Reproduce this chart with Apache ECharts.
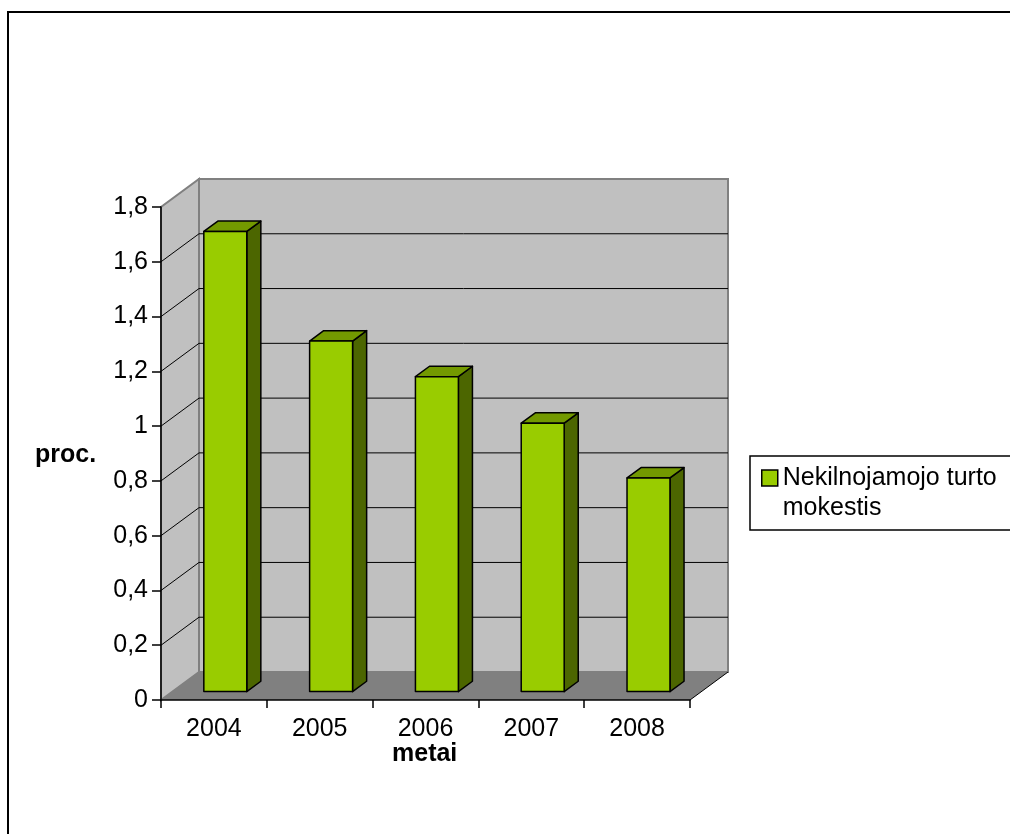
<!DOCTYPE html>
<html>
<head>
<meta charset="utf-8">
<script src="https://cdn.jsdelivr.net/npm/echarts@6/dist/echarts.min.js"></script>
<style>html,body{margin:0;padding:0;background:#fff}#c{width:1010px;height:834px}</style>
</head>
<body>
<div id="c"></div>
<script>
var categories = ['2004', '2005', '2006', '2007', '2008'];
var values = [1.68, 1.28, 1.15, 0.98, 0.78];
var seriesName = 'Nekilnojamojo turto mokestis';
var legendLabel = '\nNekilnojamojo turto\nmokestis';
var yTitle = 'proc.';
var xTitle = 'metai';
var yMax = 1.8, yStep = 0.2;

var FONT = 'Liberation Sans, Arial, sans-serif';
var FS = 25;
var DX = 38, DY = -28;          // depth offset of back wall
var FF = 0.30, BF = 0.67;       // bar front/back depth fractions
var BAR_W = 0.406;              // bar width relative to band

var chart = echarts.init(document.getElementById('c'), null, {renderer: 'canvas'});

function wallsRender(params, api) {
  var cs = params.coordSys;
  var x0 = cs.x, x1 = cs.x + cs.width;
  var yb = api.coord([0, 0])[1];
  var yt = api.coord([0, yMax])[1];
  var ch = [];
  ch.push({type: 'rect', shape: {x: x0 + DX, y: yt + DY, width: x1 - x0, height: yb - yt},
    style: {fill: '#C0C0C0', stroke: '#808080', lineWidth: 2}});
  ch.push({type: 'polygon', shape: {points: [[x0, yb], [x0, yt], [x0 + DX, yt + DY], [x0 + DX, yb + DY]]},
    style: {fill: '#C0C0C0', stroke: '#808080', lineWidth: 2}});
  ch.push({type: 'polygon', shape: {points: [[x0, yb], [x0 + DX, yb + DY], [x1 + DX, yb + DY], [x1, yb]]},
    style: {fill: '#808080', stroke: null}});
  ch.push({type: 'line', shape: {x1: x1, y1: yb, x2: x1 + DX, y2: yb + DY},
    style: {stroke: '#000', lineWidth: 1}});
  var n = Math.round(yMax / yStep);
  for (var i = 1; i < n; i++) {
    var y = api.coord([0, i * yStep])[1];
    ch.push({type: 'polyline', shape: {points: [[x0, y], [x0 + DX, y + DY], [x1 + DX, y + DY]]},
      style: {stroke: '#000', lineWidth: 1, fill: null}});
  }
  return {type: 'group', children: ch};
}

function barRender(params, api) {
  var idx = api.value(0), v = api.value(1);
  var c = api.coord([idx, v]);
  var b = api.coord([idx, 0]);
  var band = api.size([1, 0])[0];
  var w = band * BAR_W;
  var fx = c[0] - w / 2 + DX * FF, fyT = c[1] + DY * FF, fyB = b[1] + DY * FF;
  var ddx = DX * (BF - FF), ddy = DY * (BF - FF);
  var st = {stroke: '#000', lineWidth: 1.5, lineJoin: 'round'};
  return {type: 'group', children: [
    {type: 'polygon', shape: {points: [[fx + w, fyT], [fx + w + ddx, fyT + ddy], [fx + w + ddx, fyB + ddy], [fx + w, fyB]]},
      style: Object.assign({fill: '#4C6600'}, st)},
    {type: 'polygon', shape: {points: [[fx, fyT], [fx + ddx, fyT + ddy], [fx + w + ddx, fyT + ddy], [fx + w, fyT]]},
      style: Object.assign({fill: '#739900'}, st)},
    {type: 'rect', shape: {x: fx, y: fyT, width: w, height: fyB - fyT},
      style: Object.assign({fill: '#99CC00'}, st)}
  ]};
}

var option = {
  animation: false,
  backgroundColor: '#fff',
  grid: {left: 161, right: 320, top: 207, bottom: 134, containLabel: false},
  xAxis: {
    type: 'category', data: categories, z: 1,
    axisLine: {lineStyle: {color: '#000', width: 1.5}},
    axisTick: {show: true, length: 8, lineStyle: {color: '#000', width: 1.5}},
    axisLabel: {color: '#000', fontSize: FS, fontFamily: FONT, margin: 17},
    splitLine: {show: false}
  },
  yAxis: {
    type: 'value', min: 0, max: yMax, interval: yStep, z: 1,
    axisLine: {show: true, lineStyle: {color: '#000', width: 1.5}},
    axisTick: {show: true, length: 9, lineStyle: {color: '#000', width: 1.5}},
    axisLabel: {color: '#000', fontSize: FS, fontFamily: FONT, margin: 13,
      formatter: function (v) { return (Math.round(v * 10) / 10).toString().replace('.', ','); }},
    splitLine: {show: false}
  },
  legend: {
    left: 761, top: 433, padding: 0, orient: 'vertical', selectedMode: false,
    itemWidth: 16, itemHeight: 16, icon: 'rect',
    data: [{name: seriesName, itemStyle: {color: '#99CC00', borderColor: '#000', borderWidth: 1.5}}],
    formatter: function () { return legendLabel; },
    textStyle: {fontSize: FS, fontFamily: FONT, color: '#000', lineHeight: 30}
  },
  graphic: [
    {type: 'rect', z: -10, shape: {x: 8, y: 12, width: 1100, height: 900}, style: {fill: 'none', stroke: '#000', lineWidth: 2}},
    {type: 'rect', z: -5, shape: {x: 750, y: 456, width: 400, height: 74}, style: {fill: '#fff', stroke: '#000', lineWidth: 1.5}},
    {type: 'text', left: 35, top: 443, style: {text: yTitle, font: 'bold 25px ' + FONT, fill: '#000'}},
    {type: 'text', left: 392, top: 742, style: {text: xTitle, font: 'bold 25px ' + FONT, fill: '#000'}}
  ],
  series: [
    {type: 'custom', name: 'walls', z: 0, silent: true, renderItem: wallsRender, data: [[0, 0]], legendHoverLink: false},
    {type: 'custom', name: seriesName, z: 3, renderItem: barRender,
      itemStyle: {color: '#99CC00', borderColor: '#000', borderWidth: 1.5},
      encode: {x: 0, y: 1},
      data: values.map(function (v, i) { return [i, v]; })}
  ]
};
chart.setOption(option);
</script>
</body>
</html>
